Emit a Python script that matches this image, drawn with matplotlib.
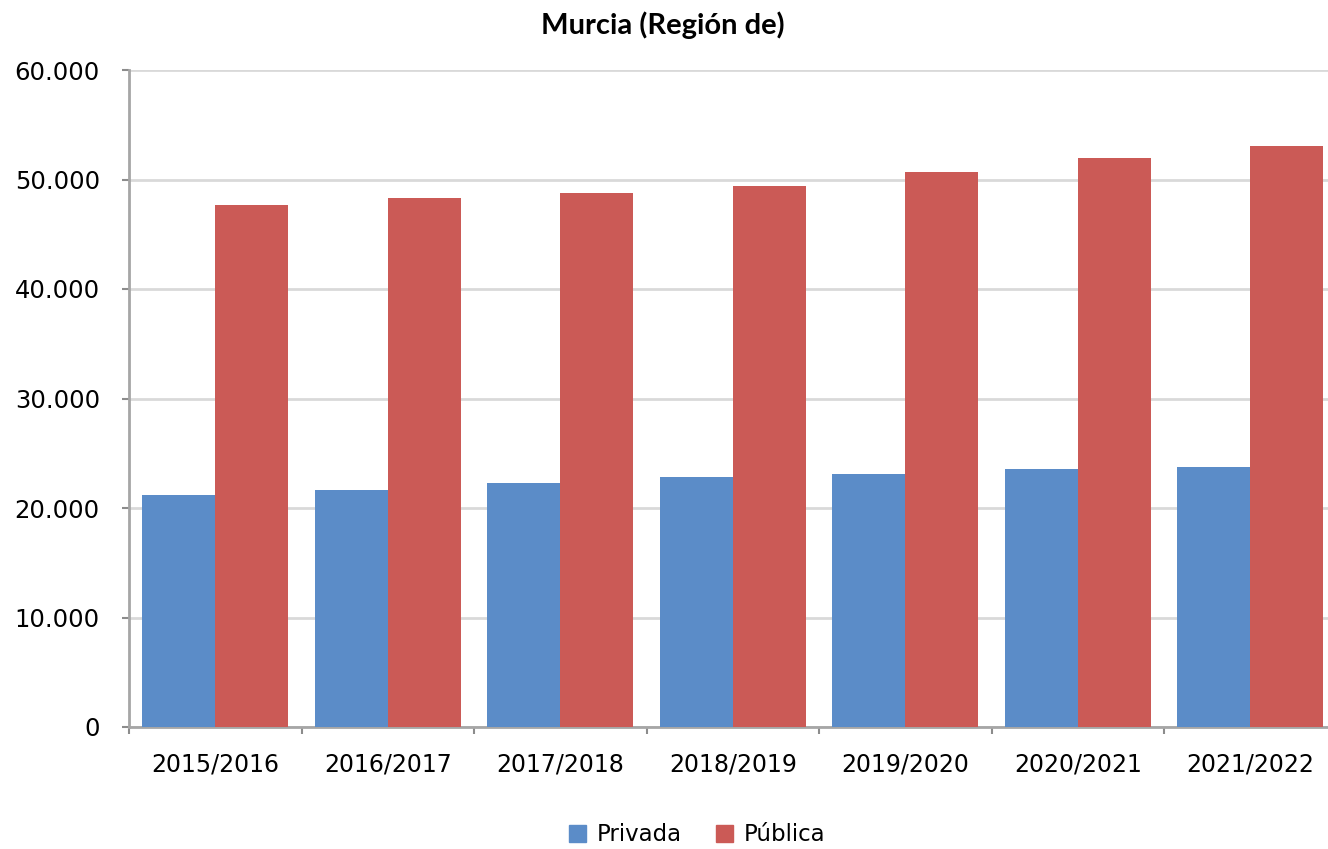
import matplotlib.pyplot as plt
import numpy as np
from matplotlib.patches import Patch
from matplotlib.ticker import FuncFormatter

cursos = ['2015/2016', '2016/2017', '2017/2018', '2018/2019',
          '2019/2020', '2020/2021', '2021/2022']
privada = [21190, 21640, 22310, 22860, 23080, 23580, 23700]
publica = [47670, 48280, 48740, 49430, 50710, 51930, 53070]

AZUL = '#5b8cc8'
ROJO = '#cb5a56'

fig = plt.figure(figsize=(13.28, 8.49), dpi=100)
ax = fig.add_axes([129 / 1328, 122 / 849, 7 * 172.5 / 1328, 657 / 849])

x = np.arange(len(cursos))
w = 0.423
ax.bar(x - w / 2, privada, w, color=AZUL, zorder=3)
ax.bar(x + w / 2, publica, w, color=ROJO, zorder=3)

ax.set_xlim(-0.5, len(cursos) - 0.5)
ax.set_ylim(0, 60000)
ax.set_yticks(np.arange(0, 60001, 10000))
ax.yaxis.set_major_formatter(FuncFormatter(lambda v, p: f'{int(v):,}'.replace(',', '.')))

# etiquetas centradas, marcas entre categorias
ax.set_xticks(x)
ax.set_xticklabels(cursos)
ax.set_xticks(np.arange(-0.5, len(cursos)), minor=True)
ax.tick_params(axis='x', which='major', length=0, pad=18, labelsize=17)
ax.tick_params(axis='x', which='minor', length=5, width=1.5, color='#8c8c8c', direction='out')
ax.tick_params(axis='y', length=5, width=1.5, color='#8c8c8c', pad=16, labelsize=17.5)

ax.grid(axis='y', color='#d9d9d9', linewidth=2, zorder=0)
for s in ['top', 'right']:
    ax.spines[s].set_visible(False)
for s in ['left', 'bottom']:
    ax.spines[s].set_color('#a6a6a6')
    ax.spines[s].set_linewidth(2)

fig.text(0.4993, 0.9706, 'Murcia (Región de)', ha='center', va='center',
         fontsize=21, fontweight='bold', family='Lato')

handles = [Patch(color=AZUL, label='Privada'), Patch(color=ROJO, label='Pública')]
fig.legend(handles=handles, loc='center', bbox_to_anchor=(0.525, 0.0165), ncol=2,
           frameon=False, fontsize=16.5, handlelength=0.75, handleheight=0.75,
           handletextpad=0.45, columnspacing=1.5)

fig.savefig('out.png', dpi=100)
